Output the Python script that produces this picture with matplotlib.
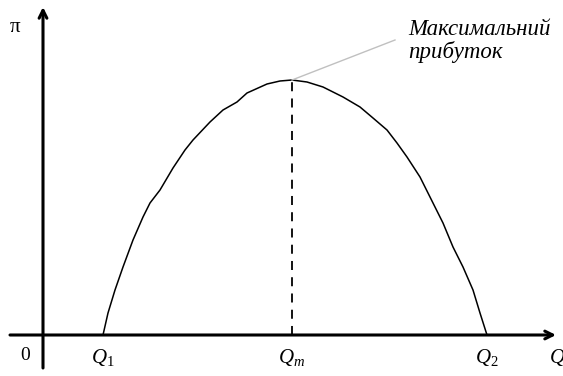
import matplotlib.pyplot as plt

# profit curve (arbitrary units)
quantity = [6.0, 6.5, 7.2, 8.0, 9.0, 10.0, 10.7, 11.7, 13.0, 14.2, 15.0,
            16.7, 18.0, 19.4, 20.4, 22.4, 23.7, 24.9, 26.4, 28.0, 30.0,
            31.7, 33.0, 34.4, 35.4, 36.4, 37.7, 38.7, 40.0, 41.0, 42.0,
            43.0, 43.7, 44.4]
profit = [0, 2.2, 4.5, 6.8, 9.5, 11.8, 13.2, 14.5, 16.7, 18.5, 19.5,
          21.3, 22.5, 23.3, 24.2, 25.1, 25.4, 25.5, 25.3, 24.8, 23.8,
          22.8, 21.7, 20.5, 19.2, 17.8, 15.8, 13.8, 11.2, 8.8, 6.8,
          4.5, 2.2, 0]

q_marks = [6.0, 24.9, 44.4]
q_labels = ['$Q_1$', '$Q_m$', '$Q_2$']
q_max, pi_max = 24.9, 25.5

plt.rcParams['mathtext.fontset'] = 'custom'
plt.rcParams['mathtext.it'] = 'Liberation Serif:italic'
plt.rcParams['mathtext.rm'] = 'Liberation Serif'

fig = plt.figure(figsize=(5.63, 3.76), dpi=100)
ax = fig.add_axes([0, 0, 1, 1])
ax.set_xlim(-4.3, 52.0)
ax.set_ylim(-4.1, 33.5)
ax.axis('off')

# axes with arrows
ax.annotate('', xy=(51.3, 0), xytext=(-3.3, 0),
            arrowprops=dict(arrowstyle='->', lw=2.2, color='black',
                            mutation_scale=14, shrinkA=0, shrinkB=0))
ax.annotate('', xy=(0, 32.8), xytext=(0, -3.3),
            arrowprops=dict(arrowstyle='->', lw=2.2, color='black',
                            mutation_scale=14, shrinkA=0, shrinkB=0))

ax.plot(quantity, profit, color='black', lw=1.1)
ax.plot([q_max, q_max], [0, pi_max], color='black', lw=1.3,
        linestyle=(0, (5, 4)))

# pointer to the label
ax.plot([q_max, 35.2], [pi_max, 29.5], color='#c0c0c0', lw=1)

serif = 'Liberation Serif'
for q, lab in zip(q_marks, q_labels):
    ax.text(q, -1.2, lab, ha='center', va='top', fontsize=15, family=serif)
ax.text(50.6, -1.2, '$Q$', ha='left', va='top', fontsize=15, family=serif)
ax.text(-1.8, -1.2, '0', ha='center', va='top', fontsize=14, family=serif)
ax.text(-2.8, 30.8, 'π', ha='center', va='center', fontsize=15, family=serif)

ax.text(36.5, 31.6, 'Максимальний\nприбуток', ha='left', va='top',
        fontsize=16.5, family=serif, style='italic', linespacing=1.05)

fig.savefig('out.png', dpi=100)
